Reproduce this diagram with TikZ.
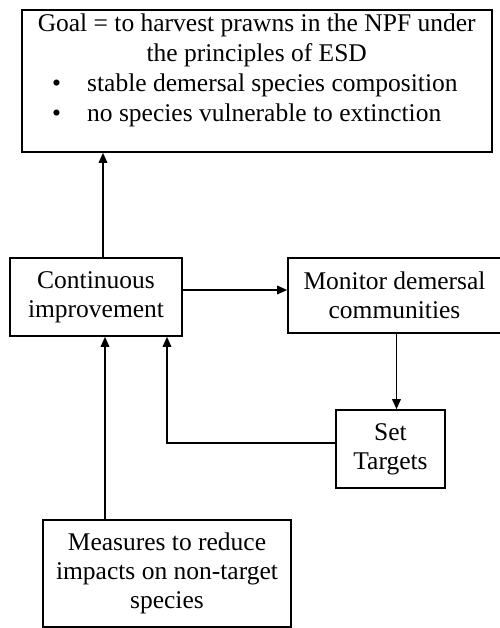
\documentclass[tikz,border=0pt]{standalone}
\usepackage{fontspec}
\setmainfont{Liberation Serif}
\usetikzlibrary{arrows.meta}
\begin{document}
\begin{tikzpicture}[x=1pt,y=-1pt,
  box/.style={draw, line width=1.6pt, inner sep=0pt, align=center,
    font=\fontsize{25.5}{29}\selectfont},
  arr/.style={line width=1.6pt, -{Triangle[length=10pt,width=8.5pt]}},
  txt/.style={inner sep=0pt, font=\fontsize{25.5}{30}\selectfont}]
\useasboundingbox (0,0) rectangle (499,628);
\fill[white] (0,0) rectangle (499,628);
% goal
\node[box, minimum width=470pt, minimum height=142pt] (goal) at (257,81) {};
\node[txt, anchor=base west] (goaltext) at (36,32) {\parbox[t]{441pt}{\centering
  Goal = to harvest prawns in the NPF under\\ the principles of ESD\par
  \raggedright
  \hspace*{16pt}\makebox[35pt][l]{\textbullet}stable demersal species composition\\
  \hspace*{16pt}\makebox[35pt][l]{\textbullet}no species vulnerable to extinction}};
% boxes
\node[box, minimum width=172pt, minimum height=78pt] (cont) at (96,297) {Continuous\\improvement};
\node[box, minimum width=213pt, minimum height=75pt] (mon) at (394.5,295.5) {Monitor demersal\\communities};
\node[box, minimum width=109pt, minimum height=78pt] (set) at (390.5,449) {Set\\Targets};
\node[box, minimum width=248pt, minimum height=107pt] (meas) at (167,573.5) {Measures to reduce\\impacts on non-target\\species};
% connectors
\draw[arr] ([xshift=7pt]cont.north) -- ([xshift=7pt]cont.north |- goal.south);
\draw[arr] ([yshift=7pt]cont.east) -- ([yshift=7pt]cont.east -| mon.west);
\draw[arr] ([xshift=6pt]set.north |- mon.south) -- ([xshift=6pt]set.north);
\draw[arr] ([yshift=6pt]set.west) -| ([xshift=71pt]cont.south);
\draw[arr] ([xshift=9pt]cont.south |- meas.north) -- ([xshift=9pt]cont.south);
\end{tikzpicture}
\end{document}
